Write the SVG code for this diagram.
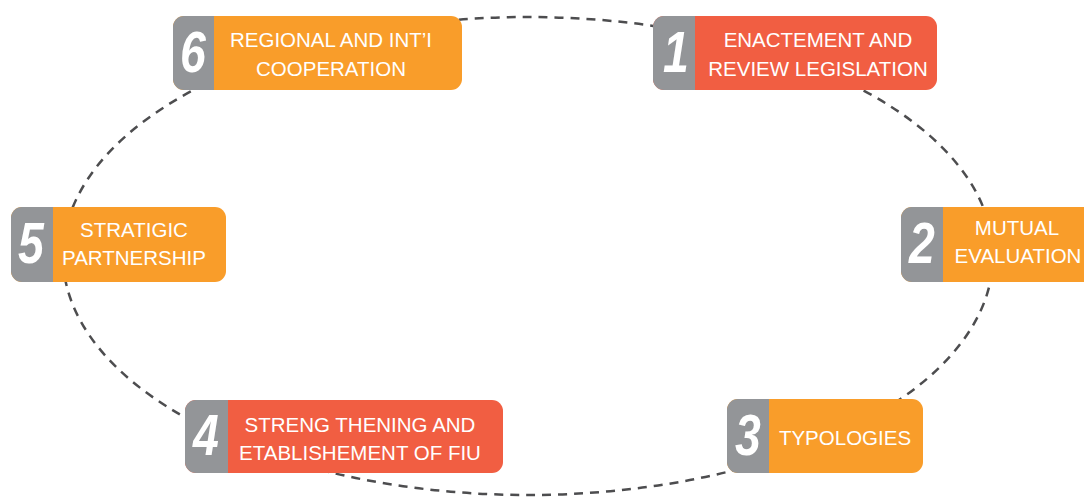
<svg xmlns="http://www.w3.org/2000/svg" width="1084" height="497" viewBox="0 0 1084 497">
<style>
.bg{fill:#ffffff}
.ring{fill:none;stroke:#4d4d4f;stroke-width:2.5;stroke-dasharray:9 7}
.gray{fill:#939598}
.orange{fill:#F99D2A}
.red{fill:#F15E42}
.lbl{font-family:"Liberation Sans",Arial,sans-serif;font-size:20.5px;fill:#ffffff;text-anchor:middle}
.num{font-family:"Liberation Sans",Arial,sans-serif;font-size:58px;font-weight:bold;font-style:italic;fill:#ffffff;text-anchor:middle}
</style>
<rect class="bg" x="0" y="0" width="1084" height="497"/>
<g id="connectors">
<ellipse class="ring" cx="528" cy="256" rx="465" ry="239"/>
</g>
<g id="node6">
<rect class="orange" x="173" y="16" width="289" height="74" rx="11"/>
<path class="gray" d="M184,16 H214 V90 H184 A11,11 0 0 1 173,79 V27 A11,11 0 0 1 184,16 Z"/>
<text class="num" transform="translate(193,72) scale(0.8,1)">6</text>
<text class="lbl" x="331" y="47">REGIONAL AND INT’I</text>
<text class="lbl" x="331" y="75.5">COOPERATION</text>
</g>
<g id="node1">
<rect class="red" x="653" y="16" width="284" height="74" rx="11"/>
<path class="gray" d="M664,16 H695 V90 H664 A11,11 0 0 1 653,79 V27 A11,11 0 0 1 664,16 Z"/>
<text class="num" transform="translate(676,72) scale(0.8,1)">1</text>
<text class="lbl" x="818" y="47">ENACTEMENT AND</text>
<text class="lbl" x="818" y="75.5">REVIEW LEGISLATION</text>
</g>
<g id="node5">
<rect class="orange" x="11" y="207" width="215" height="75" rx="11"/>
<path class="gray" d="M22,207 H53 V282 H22 A11,11 0 0 1 11,271 V218 A11,11 0 0 1 22,207 Z"/>
<text class="num" transform="translate(31,263) scale(0.8,1)">5</text>
<text class="lbl" x="134" y="237">STRATIGIC</text>
<text class="lbl" x="134" y="265">PARTNERSHIP</text>
</g>
<g id="node2">
<rect class="orange" x="901" y="207" width="200" height="75" rx="11"/>
<path class="gray" d="M912,207 H943 V282 H912 A11,11 0 0 1 901,271 V218 A11,11 0 0 1 912,207 Z"/>
<text class="num" transform="translate(922,263) scale(0.8,1)">2</text>
<text class="lbl" x="1017" y="235">MUTUAL</text>
<text class="lbl" x="1018" y="263">EVALUATION</text>
</g>
<g id="node4">
<rect class="red" x="185" y="400" width="318" height="73" rx="11"/>
<path class="gray" d="M196,400 H228 V473 H196 A11,11 0 0 1 185,462 V411 A11,11 0 0 1 196,400 Z"/>
<text class="num" transform="translate(206,455) scale(0.8,1)">4</text>
<text class="lbl" x="360" y="432">STRENG THENING AND</text>
<text class="lbl" x="360" y="460">ETABLISHEMENT OF FIU</text>
</g>
<g id="node3">
<rect class="orange" x="727" y="399" width="196" height="74" rx="11"/>
<path class="gray" d="M738,399 H769 V473 H738 A11,11 0 0 1 727,462 V410 A11,11 0 0 1 738,399 Z"/>
<text class="num" transform="translate(748,455) scale(0.8,1)">3</text>
<text class="lbl" x="845" y="445">TYPOLOGIES</text>
</g>
</svg>
